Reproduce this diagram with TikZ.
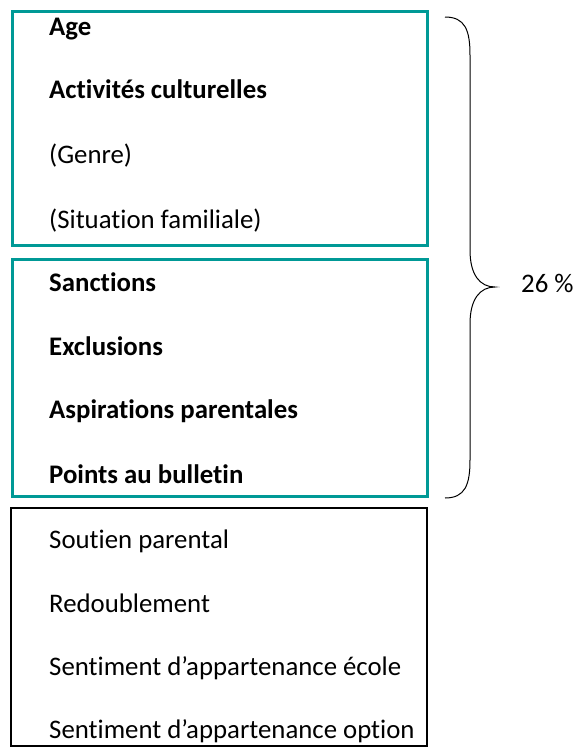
\documentclass[tikz,border=0pt]{standalone}
\usepackage{fontspec}
\setmainfont[RawFeature=-liga]{Carlito}
\definecolor{teal1}{RGB}{0,153,150}
\begin{document}
\begin{tikzpicture}[x=1pt,y=-1pt,
  lbl/.style={anchor=base west,inner sep=0pt,font=\fontsize{26.8}{30}\selectfont},
  blbl/.style={lbl,font=\fontsize{26.8}{30}\selectfont\bfseries},
  tealbox/.style={draw=teal1,line width=3pt},
  blackbox/.style={draw=black,line width=1.8pt}]
\useasboundingbox (0,0) rectangle (574,756);
\draw[tealbox] (12,11) rectangle (427,245);
\draw[tealbox] (12,259) rectangle (427,496);
\draw[blackbox] (11,508) rectangle (427,746);
\node[blbl] (age) at (49,35) {Age};
\node[blbl] (act) at (49,98) {Activités culturelles};
\node[lbl] (gen) at (49,163) {(Genre)};
\node[lbl] (sit) at (49,228) {(Situation familiale)};
\node[blbl] (san) at (49,291) {Sanctions};
\node[blbl] (exc) at (49,355) {Exclusions};
\node[blbl] (asp) at (49,418) {Aspirations parentales};
\node[blbl] (pts) at (49,483) {Points au bulletin};
\node[lbl] (sou) at (49,548) {Soutien parental};
\node[lbl] (red) at (49,612) {Redoublement};
\node[lbl] (sae) at (49,675) {Sentiment d’appartenance école};
\node[lbl] (sao) at (49,738) {Sentiment d’appartenance option};
\node[lbl] (pct) at (521,292) {26 \%};
\coordinate (bt) at (445,17);
\coordinate (tip) at (495,287);
\coordinate (bb) at (445,498);
\draw[line width=1pt] (bt) .. controls (465,17) and (470,30) .. (470,55)
  -- (470,250) .. controls (470,275) and (480,287) .. (tip)
  .. controls (480,287) and (470,299) .. (470,324)
  -- (470,460) .. controls (470,485) and (465,498) .. (bb);
\end{tikzpicture}
\end{document}
